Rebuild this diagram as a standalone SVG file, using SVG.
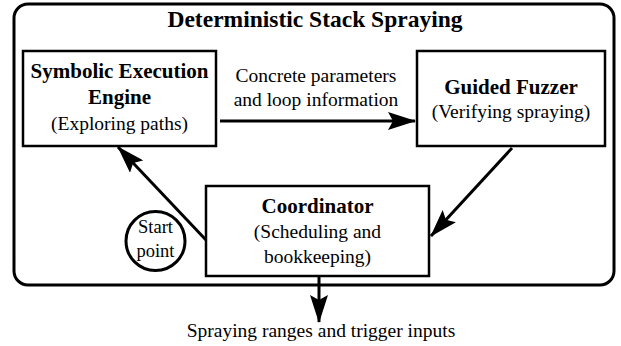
<svg xmlns="http://www.w3.org/2000/svg" width="621" height="346" viewBox="0 0 621 346">
<style>
.box{fill:#fff;stroke:#000;stroke-width:2.5}
.t{font-family:"Liberation Serif","Times New Roman",serif;fill:#000;text-anchor:middle}
.b{font-weight:bold;font-size:21px}
.r{font-size:19.5px}
.c{stroke:#000;stroke-width:3;fill:none}
</style>
<defs>
<marker id="ah" viewBox="0 0 28 18" refX="27" refY="9" markerWidth="28" markerHeight="18" markerUnits="userSpaceOnUse" orient="auto">
<path d="M0,0 L28,9 L0,18 L5,9 z" fill="#000"/>
</marker>
</defs>
<rect x="14" y="4" width="600" height="281" rx="14" fill="#fff" stroke="#000" stroke-width="3"/>
<text class="t" x="315" y="27" font-weight="bold" font-size="23.5px">Deterministic Stack Spraying</text>
<g id="symbolic">
<rect class="box" x="23" y="51" width="193" height="95"/>
<text class="t b" x="119.5" y="78">Symbolic Execution</text>
<text class="t b" x="119.5" y="104">Engine</text>
<text class="t r" x="119.5" y="130">(Exploring paths)</text>
</g>
<g id="fuzzer">
<rect class="box" x="417" y="51" width="188" height="95"/>
<text class="t b" x="511" y="94">Guided Fuzzer</text>
<text class="t r" x="511" y="118">(Verifying spraying)</text>
</g>
<g id="coordinator">
<rect class="box" x="206" y="186" width="223" height="90"/>
<text class="t b" x="317.5" y="213">Coordinator</text>
<text class="t r" x="317.5" y="238">(Scheduling and</text>
<text class="t r" x="317.5" y="263">bookkeeping)</text>
</g>
<g id="start">
<circle cx="155.5" cy="241" r="29.5" fill="#fff" stroke="#000" stroke-width="3"/>
<text class="t" x="155.5" y="233" font-size="18.5px">Start</text>
<text class="t" x="155.5" y="257" font-size="18.5px">point</text>
</g>
<g id="connectors">
<line class="c" x1="220" y1="121" x2="415" y2="121" marker-end="url(#ah)"/>
<line class="c" x1="206" y1="240" x2="118" y2="147" marker-end="url(#ah)"/>
<line class="c" x1="512" y1="148" x2="431" y2="236" marker-end="url(#ah)"/>
<line class="c" x1="319" y1="276" x2="319" y2="322" marker-end="url(#ah)"/>
</g>
<text class="t r" x="316" y="82">Concrete parameters</text>
<text class="t r" x="316" y="106">and loop information</text>
<text class="t r" x="321" y="337">Spraying ranges and trigger inputs</text>
</svg>
